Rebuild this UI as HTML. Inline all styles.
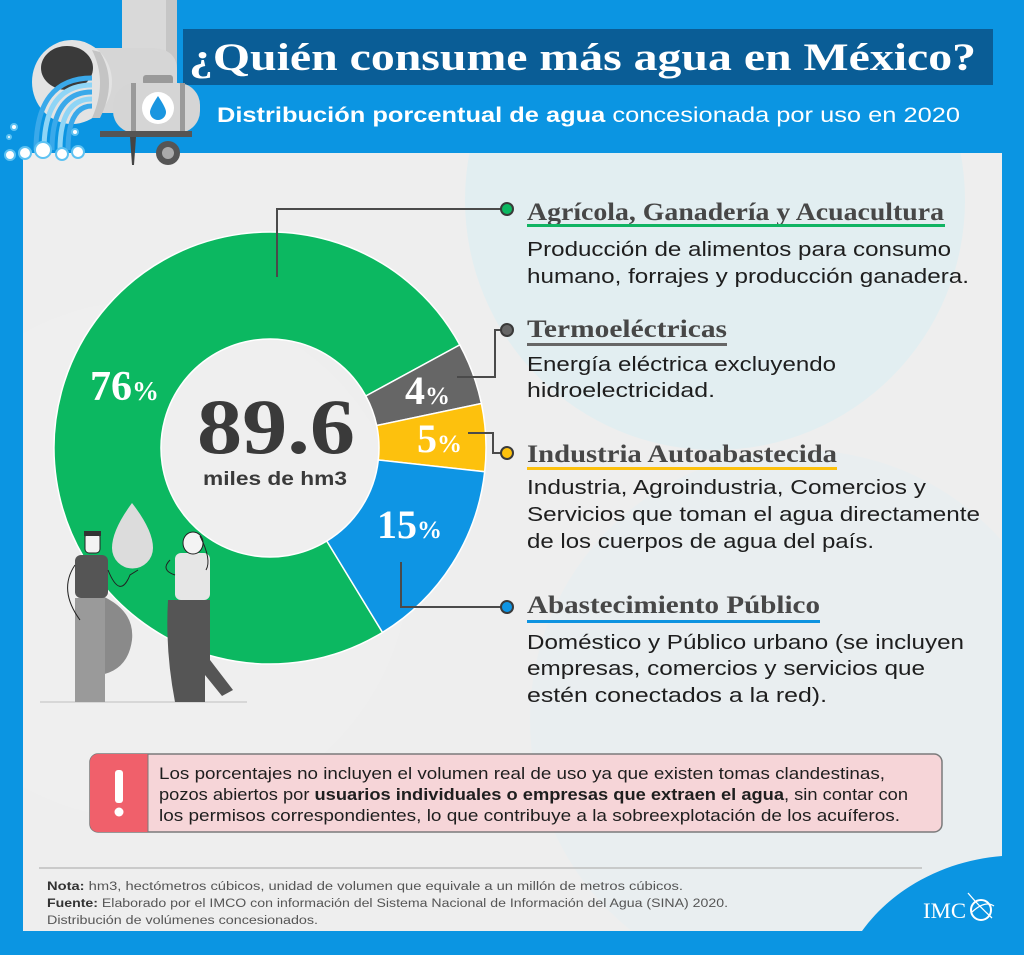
<!DOCTYPE html>
<html><head><meta charset="utf-8"><style>
html,body{margin:0;padding:0;background:#0b95e2;}
body{width:1024px;height:955px;overflow:hidden;}
svg{display:block;}
.sf{font-family:"Liberation Serif",serif;font-weight:bold;}
.ss{font-family:"Liberation Sans",sans-serif;}
</style></head><body>
<svg width="1024" height="955" viewBox="0 0 1024 955" xmlns="http://www.w3.org/2000/svg">
<rect x="0" y="0" width="1024" height="955" fill="#0b95e2"/>
<!-- panel -->
<rect x="23" y="153" width="979" height="778" fill="#eeeeee"/>
<clipPath id="pc"><rect x="23" y="153" width="979" height="778"/></clipPath>
<g clip-path="url(#pc)">
<circle cx="715" cy="200" r="250" fill="#e2eef1"/>
<circle cx="800" cy="720" r="270" fill="#e9eef0"/>
<circle cx="150" cy="560" r="260" fill="#efefef"/>
</g>
<path d="M862,931 C895,885 950,860 1002,856 L1002,931 Z" fill="#0b95e2"/>

<!-- title -->
<rect x="183" y="29" width="810" height="56" fill="#0a5d96"/>
<text class="sf" x="189" y="70" font-size="39" fill="#ffffff" textLength="787" lengthAdjust="spacingAndGlyphs">¿Quién consume más agua en México?</text>
<text class="ss" x="217" y="122" font-size="21" fill="#ffffff" textLength="743" lengthAdjust="spacingAndGlyphs"><tspan font-weight="bold">Distribución porcentual de agua</tspan> concesionada por uso en 2020</text>

<!-- pipe illustration -->
<rect x="122" y="0" width="55" height="110" fill="#d9d9d9"/>
<rect x="166" y="0" width="11" height="110" fill="#c6c6c6"/>
<path d="M80,48 L150,48 Q177,48 177,70 L177,113 L80,113 Z" fill="#d6d6d6"/>
<ellipse cx="72" cy="82" rx="40" ry="42" fill="#e3e3e3"/>
<path d="M100,52 Q118,82 100,118 L92,118 Q108,82 92,50 Z" fill="#c4c4c4"/>
<ellipse cx="67" cy="68" rx="26" ry="22" fill="#3a3a3a"/>
<g fill="none" stroke-width="5">
<path d="M92,78 Q36,78 36,150" stroke="#3aa9ea"/>
<path d="M92,85 Q44,85 44,150" stroke="#8fd5f6"/>
<path d="M92,92 Q52,92 52,150" stroke="#3aa9ea"/>
<path d="M92,99 Q60,99 60,150" stroke="#8fd5f6"/>
<path d="M92,106 Q68,106 68,150" stroke="#3aa9ea"/>
</g>
<g fill="#ffffff" stroke="#5ec2f2" stroke-width="2">
<circle cx="10" cy="155" r="5"/><circle cx="25" cy="153" r="6"/><circle cx="43" cy="150" r="8"/><circle cx="62" cy="154" r="6"/><circle cx="78" cy="152" r="6"/>
<circle cx="14" cy="127" r="3"/><circle cx="9" cy="137" r="2"/><circle cx="75" cy="132" r="3"/>
</g>
<rect x="143" y="75" width="30" height="10" rx="3" fill="#9a9a9a"/>
<rect x="113" y="83" width="87" height="50" rx="22" fill="#d5d5d5"/>
<rect x="131" y="83" width="5" height="50" fill="#9a9a9a"/>
<rect x="180" y="83" width="5" height="50" fill="#9a9a9a"/>
<circle cx="158" cy="108" r="16" fill="#ffffff"/>
<path d="M158,96 Q150,108 150,112 A8,8 0 0 0 166,112 Q166,108 158,96 Z" fill="#1a96e0"/>
<rect x="100" y="131" width="92" height="6" fill="#555"/>
<path d="M130,137 L136,137 L134,165 L132,165 Z" fill="#444"/>
<circle cx="168" cy="153" r="12" fill="#555"/>
<circle cx="168" cy="153" r="6" fill="#aaa"/>

<!-- donut -->
<g stroke="#ffffff" stroke-width="1.5">
<path d="M382.5,632.4 A216,216 0 1 1 459.8,344.9 L365.8,396.0 A109,109 0 1 0 326.8,541.0 Z" fill="#0cb861"/>
<path d="M459.8,344.9 A216,216 0 0 1 481.4,403.5 L376.7,425.5 A109,109 0 0 0 365.8,396.0 Z" fill="#666666"/>
<path d="M481.4,403.5 A216,216 0 0 1 484.7,471.7 L378.3,460.0 A109,109 0 0 0 376.7,425.5 Z" fill="#fdc10d"/>
<path d="M484.7,471.7 A216,216 0 0 1 382.5,632.4 L326.8,541.0 A109,109 0 0 0 378.3,460.0 Z" fill="#0e95e4"/>
</g>
<text class="sf" x="197" y="453" font-size="78" fill="#3a3a3a" textLength="158" lengthAdjust="spacingAndGlyphs">89.6</text>
<text class="ss" x="203" y="485" font-size="19" font-weight="bold" fill="#3a3a3a" textLength="144" lengthAdjust="spacingAndGlyphs">miles de hm3</text>
<g fill="#ffffff">
<text class="sf" x="90" y="400" font-size="42">76<tspan font-size="27">%</tspan></text>
<text class="sf" x="405" y="404" font-size="40">4<tspan font-size="25">%</tspan></text>
<text class="sf" x="417" y="452" font-size="40">5<tspan font-size="25">%</tspan></text>
<text class="sf" x="377" y="538" font-size="40">15<tspan font-size="25">%</tspan></text>
</g>

<!-- people -->
<line x1="40" y1="702" x2="247" y2="702" stroke="#cfcfcf" stroke-width="1.5"/>
<path d="M132,503 Q112,530 112,548 A20,20 0 0 0 153,548 Q153,530 132,503 Z" fill="#dcdcdc"/>
<path d="M100,595 Q135,610 132,640 Q128,670 100,675 Z" fill="#8a8a8a"/>
<rect x="75" y="598" width="30" height="104" fill="#9a9a9a"/>
<rect x="75" y="555" width="33" height="43" rx="6" fill="#555555"/>
<rect x="85" y="533" width="15" height="20" rx="4" fill="#f3f3f3" stroke="#222" stroke-width="1"/>
<rect x="84" y="531" width="17" height="5" fill="#333"/>
<path d="M75,565 Q58,590 80,620" fill="none" stroke="#222" stroke-width="1"/>
<path d="M108,570 Q120,600 130,575 L138,570" fill="none" stroke="#222" stroke-width="1"/>
<path d="M168,600 L210,600 L210,660 L233,690 L222,696 L205,675 L205,702 L175,702 Q165,650 168,600 Z" fill="#555555"/>
<rect x="175" y="553" width="35" height="47" rx="6" fill="#e6e6e6"/>
<ellipse cx="193" cy="543" rx="10" ry="11" fill="#f3f3f3" stroke="#222" stroke-width="1"/>
<path d="M200,536 Q212,560 206,570" fill="none" stroke="#222" stroke-width="1"/>
<path d="M175,575 Q160,570 170,560" fill="none" stroke="#222" stroke-width="1"/>

<!-- connectors -->
<g fill="none" stroke="#4a4a4a" stroke-width="2">
<polyline points="277,277 277,209 507,209"/>
<polyline points="457,377 495,377 495,330 507,330"/>
<polyline points="468,433 493,433 493,453 507,453"/>
<polyline points="401,562 401,607 507,607"/>
</g>
<g stroke="#3a3a3a" stroke-width="2">
<circle cx="507" cy="209" r="6" fill="#0cb861"/>
<circle cx="507" cy="330" r="6" fill="#666666"/>
<circle cx="507" cy="453" r="6" fill="#fdc10d"/>
<circle cx="507" cy="607" r="6" fill="#0e95e4"/>
</g>

<!-- legend -->
<g class="sf" fill="#474747">
<text x="527" y="220" font-size="25" textLength="417" lengthAdjust="spacingAndGlyphs">Agrícola, Ganadería y Acuacultura</text>
<text x="527" y="337" font-size="25" textLength="200" lengthAdjust="spacingAndGlyphs">Termoeléctricas</text>
<text x="527" y="462" font-size="25" textLength="310" lengthAdjust="spacingAndGlyphs">Industria Autoabastecida</text>
<text x="527" y="613" font-size="25" textLength="293" lengthAdjust="spacingAndGlyphs">Abastecimiento Público</text>
</g>
<rect x="527" y="224" width="418" height="3" fill="#10b463"/>
<rect x="527" y="343" width="200" height="3" fill="#666666"/>
<rect x="527" y="467" width="310" height="3" fill="#fdc10d"/>
<rect x="527" y="620" width="293" height="3" fill="#0e93e0"/>
<g class="ss" fill="#1e1e1e" font-size="20.5">
<text x="527" y="256" textLength="424" lengthAdjust="spacingAndGlyphs">Producción de alimentos para consumo</text>
<text x="527" y="283" textLength="442" lengthAdjust="spacingAndGlyphs">humano, forrajes y producción ganadera.</text>
<text x="527" y="371" textLength="309" lengthAdjust="spacingAndGlyphs">Energía eléctrica excluyendo</text>
<text x="527" y="397" textLength="188" lengthAdjust="spacingAndGlyphs">hidroelectricidad.</text>
<text x="527" y="494" textLength="399" lengthAdjust="spacingAndGlyphs">Industria, Agroindustria, Comercios y</text>
<text x="527" y="521" textLength="453" lengthAdjust="spacingAndGlyphs">Servicios que toman el agua directamente</text>
<text x="527" y="548" textLength="347" lengthAdjust="spacingAndGlyphs">de los cuerpos de agua del país.</text>
<text x="527" y="649" textLength="437" lengthAdjust="spacingAndGlyphs">Doméstico y Público urbano (se incluyen</text>
<text x="527" y="675" textLength="398" lengthAdjust="spacingAndGlyphs">empresas, comercios y servicios que</text>
<text x="527" y="702" textLength="300" lengthAdjust="spacingAndGlyphs">estén conectados a la red).</text>
</g>

<!-- warning -->
<rect x="90" y="754" width="852" height="78" rx="8" fill="#f6d5d8" stroke="#7a7a7a" stroke-width="1.5"/>
<path d="M98,754 L148,754 L148,832 L98,832 A8,8 0 0 1 90,824 L90,762 A8,8 0 0 1 98,754 Z" fill="#f0606b"/>
<line x1="148" y1="754" x2="148" y2="832" stroke="#7a7a7a" stroke-width="1"/>
<rect x="115" y="770" width="8" height="33" rx="3" fill="#ffffff"/>
<circle cx="119" cy="812" r="4.5" fill="#ffffff"/>
<g class="ss" fill="#1e1e1e" font-size="16.5">
<text x="159" y="779" textLength="726" lengthAdjust="spacingAndGlyphs">Los porcentajes no incluyen el volumen real de uso ya que existen tomas clandestinas,</text>
<text x="159" y="800" textLength="749" lengthAdjust="spacingAndGlyphs">pozos abiertos por <tspan font-weight="bold">usuarios individuales o empresas que extraen el agua</tspan>, sin contar con</text>
<text x="159" y="821" textLength="741" lengthAdjust="spacingAndGlyphs">los permisos correspondientes, lo que contribuye a la sobreexplotación de los acuíferos.</text>
</g>

<!-- footer -->
<line x1="39" y1="868" x2="922" y2="868" stroke="#bdbdbd" stroke-width="1.5"/>
<g class="ss" fill="#555" font-size="11.5">
<text x="47" y="890" textLength="636" lengthAdjust="spacingAndGlyphs"><tspan font-weight="bold" fill="#333">Nota:</tspan> hm3, hectómetros cúbicos, unidad de volumen que equivale a un millón de metros cúbicos.</text>
<text x="47" y="907" textLength="681" lengthAdjust="spacingAndGlyphs"><tspan font-weight="bold" fill="#333">Fuente:</tspan> Elaborado por el IMCO con información del Sistema Nacional de Información del Agua (SINA) 2020.</text>
<text x="47" y="924" textLength="271" lengthAdjust="spacingAndGlyphs">Distribución de volúmenes concesionados.</text>
</g>
<text x="923" y="918" font-family="Liberation Serif, serif" font-size="22" fill="#ffffff" textLength="43" lengthAdjust="spacingAndGlyphs">IMC</text>
<ellipse cx="981" cy="910" rx="10" ry="10" fill="none" stroke="#ffffff" stroke-width="2"/>
<path d="M968,893 Q978,905 992,918" fill="none" stroke="#ffffff" stroke-width="1.3"/>
<path d="M972,912 Q985,900 994,906" fill="none" stroke="#ffffff" stroke-width="1.3"/>
</svg>
</body></html>
